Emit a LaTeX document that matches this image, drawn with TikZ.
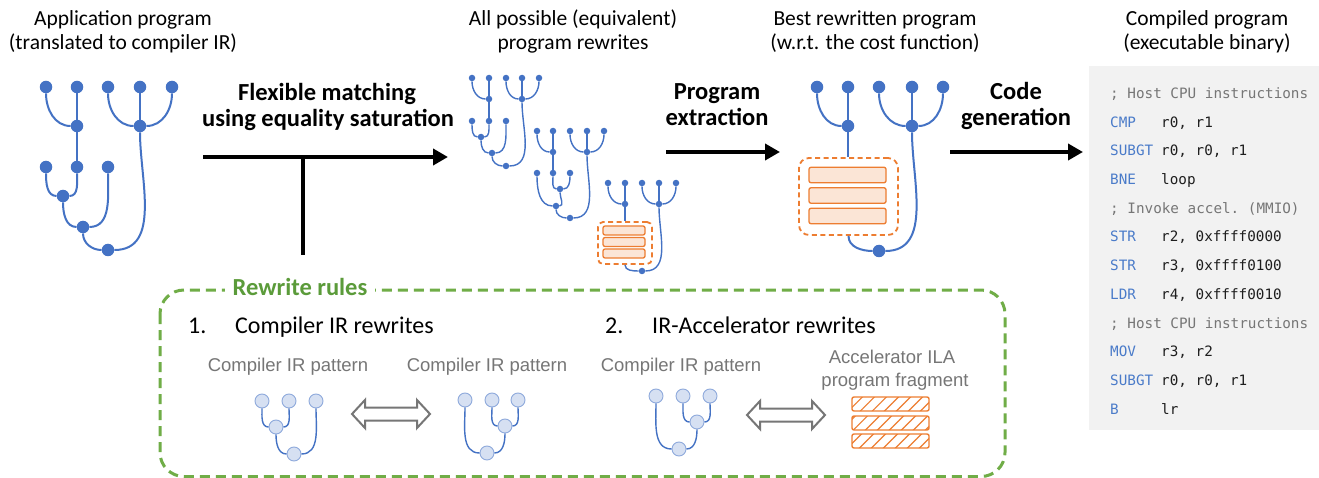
\documentclass[tikz,border=0pt]{standalone}
\usepackage{fontspec}
\setmainfont{Carlito}
\newfontfamily\arialf{Liberation Sans}
\setmonofont{DejaVu Sans Mono}
\usetikzlibrary{arrows.meta,patterns.meta}
\definecolor{blueN}{HTML}{4472C4}
\definecolor{orangeC}{HTML}{ED7D31}
\definecolor{orangeF}{HTML}{FBE5D6}
\definecolor{greenC}{HTML}{70AD47}
\definecolor{greenT}{HTML}{5B9B3A}
\definecolor{grayT}{HTML}{767676}
\definecolor{codeBg}{HTML}{F2F2F2}
\definecolor{kwBlue}{HTML}{4A7BC9}
\definecolor{lightF}{HTML}{D6E0F2}
\definecolor{lightD}{HTML}{8FAADC}
\definecolor{codeTxt}{HTML}{1E1E1E}
\tikzset{
  bnode/.style={circle, fill=blueN, inner sep=0, minimum size=12.5},
  snode/.style={circle, fill=blueN, inner sep=0, minimum size=6.5},
  lnode/.style={circle, fill=lightF, draw=lightD, line width=0.9, inner sep=0, minimum size=14},
  bedge/.style={draw=blueN, line width=2},
  sedge/.style={draw=blueN, line width=1.4},
  ttl/.style={anchor=base, inner sep=0, font=\fontsize{21.5}{25}\selectfont},
  bld/.style={anchor=base, inner sep=0, font=\fontsize{24.5}{28}\selectfont\bfseries},
  flow/.style={line width=4.5, -{Triangle[length=15,width=16]}},
  obox/.style={draw=orangeC, dash pattern=on 5 off 3.5, line width=1.8, fill=white},
  obar/.style={draw=orangeC, fill=orangeF, line width=1.3, rounded corners=2},
  hbar/.style={draw=orangeC, line width=1.4, rounded corners=2, pattern={Lines[angle=45,distance=8.5,line width=1.2]}, pattern color=orangeC, minimum width=77, minimum height=14, inner sep=0},
  kwtxt/.style={anchor=base west, inner sep=0, text=kwBlue, font=\fontsize{14.3}{17}\ttfamily},
  optxt/.style={anchor=base west, inner sep=0, text=codeTxt, font=\fontsize{14.3}{17}\ttfamily},
  cmtxt/.style={anchor=base west, inner sep=0, text=grayT, font=\fontsize{14.3}{17}\ttfamily},
  glab/.style={anchor=base, inner sep=0, text=grayT, font=\fontsize{18.5}{22}\arialf},
  rlab/.style={anchor=base west, inner sep=0, font=\fontsize{24}{28}\selectfont},
  darr/.style={draw=grayT, fill=white, line width=2, line join=miter},
}
\begin{document}
\begin{tikzpicture}[x=1pt,y=1pt]
\useasboundingbox (0,0) rectangle (1319,-478);
\fill[white] (0,0) rectangle (1319,-478);

% ---------- titles ----------
\node[ttl] (t1a) at (123,-26) {Application program};
\node[ttl] (t1b) at (123,-50) {(translated to compiler IR)};
\node[ttl] (t2a) at (573,-26) {All possible (equivalent)};
\node[ttl] (t2b) at (573,-50) {program rewrites};
\node[ttl] (t3a) at (875,-26) {Best rewritten program};
\node[ttl] (t3b) at (875,-50) {(w.r.t. the cost function)};
\node[ttl] (t4a) at (1207,-26) {Compiled program};
\node[ttl] (t4b) at (1207,-50) {(executable binary)};

% ---------- left tree ----------
\foreach \n/\x/\y in {L1/46/87,L2/77/87,L3/108/87,L4/140/87,L5/172/87,La/77/126,Lb/140/126,L6/46/167,L7/77/167,L8/108/167,Lc/63/196,Ld/83/227,Le/108/250}
  \node[bnode] (\n) at (\x,-\y) {};
\draw[bedge] (L1) to[out=-90,in=180] (La);
\draw[bedge] (L2) -- (La);
\draw[bedge] (L3) to[out=-90,in=180] (Lb);
\draw[bedge] (L4) -- (Lb);
\draw[bedge] (L5) to[out=-90,in=0] (Lb);
\draw[bedge] (La) -- (L7);
\draw[bedge] (L6) to[out=-90,in=180] (Lc);
\draw[bedge] (L7) to[out=-90,in=0] (Lc);
\draw[bedge] (Lc) to[out=-90,in=180] (Ld);
\draw[bedge] (L8) to[out=-90,in=0] (Ld);
\draw[bedge] (Ld) to[out=-90,in=180] (Le);
\draw[bedge] (Lb) to[out=-90,in=0] (Le);

% ---------- tree A ----------
\foreach \n/\x/\y in {A1/472/78,A2/489/78,A3/506/78,A4/522/78,A5/539/78,Aa/489/99,Ab/522/99,A6/472/121,A7/489/121,A8/506/121,Ac/481/137,Ad/492/153,Ae/506/166}
  \node[snode] (\n) at (\x,-\y) {};
\draw[sedge] (A1) to[out=-90,in=180] (Aa);
\draw[sedge] (A2) -- (Aa);
\draw[sedge] (A3) to[out=-90,in=180] (Ab);
\draw[sedge] (A4) -- (Ab);
\draw[sedge] (A5) to[out=-90,in=0] (Ab);
\draw[sedge] (Aa) -- (A7);
\draw[sedge] (A6) to[out=-90,in=180] (Ac);
\draw[sedge] (A7) to[out=-90,in=0] (Ac);
\draw[sedge] (Ac) to[out=-90,in=180] (Ad);
\draw[sedge] (A8) to[out=-90,in=0] (Ad);
\draw[sedge] (Ad) to[out=-90,in=180] (Ae);
\draw[sedge] (Ab) to[out=-90,in=0] (Ae);

% ---------- tree B ----------
\foreach \n/\x/\y in {B1/537/131,B2/553/131,B3/570/131,B4/587/131,B5/604/131,Ba/553/152,Bb/587/152,B6/537/173,B7/553/173,B8/570/173,Bc/560/189,Bd/556/206,Be/570/218}
  \node[snode] (\n) at (\x,-\y) {};
\draw[sedge] (B1) to[out=-90,in=180] (Ba);
\draw[sedge] (B2) -- (Ba);
\draw[sedge] (B3) to[out=-90,in=180] (Bb);
\draw[sedge] (B4) -- (Bb);
\draw[sedge] (B5) to[out=-90,in=0] (Bb);
\draw[sedge] (Ba) -- (B7);
\draw[sedge] (B7) to[out=-90,in=180] (Bc);
\draw[sedge] (B8) to[out=-90,in=0] (Bc);
\draw[sedge] (B6) to[out=-90,in=180] (Bd);
\draw[sedge] (Bc) to[out=-90,in=0] (Bd);
\draw[sedge] (Bd) to[out=-90,in=180] (Be);
\draw[sedge] (Bb) to[out=-90,in=0] (Be);

% ---------- tree C ----------
\foreach \n/\x/\y in {C1/608/183,C2/625/183,C3/642/183,C4/659/183,C5/676/183,Ca/625/204,Cb/659/204,Cr/642/271}
  \node[snode] (\n) at (\x,-\y) {};
\node[obox, minimum width=54, minimum height=42, inner sep=0, rounded corners=5] (Cbox) at (625,-243) {};
\node[obar, minimum width=42, minimum height=9, inner sep=0] (Cq1) at (624,-230.5) {};
\node[obar, minimum width=42, minimum height=9, inner sep=0] (Cq2) at (624,-242) {};
\node[obar, minimum width=42, minimum height=9, inner sep=0] (Cq3) at (624,-253.5) {};
\draw[sedge] (C1) to[out=-90,in=180] (Ca);
\draw[sedge] (C2) -- (Ca);
\draw[sedge] (C3) to[out=-90,in=180] (Cb);
\draw[sedge] (C4) -- (Cb);
\draw[sedge] (C5) to[out=-90,in=0] (Cb);
\draw[sedge] (Ca) -- (Ca |- Cbox.north);
\draw[sedge] (Cbox.south) to[out=-90,in=180] (Cr);
\draw[sedge] (Cb) to[out=-90,in=0] (Cr);

% ---------- best tree ----------
\foreach \n/\x/\y in {D1/817/87,D2/848/87,D3/879/87,D4/912/87,D5/943/87,Da/848/126,Db/912/126,Dr/879/251}
  \node[bnode] (\n) at (\x,-\y) {};
\node[obox, minimum width=99, minimum height=77, inner sep=0, rounded corners=10] (Dbox) at (848.5,-196.5) {};
\node[obar, minimum width=77, minimum height=15.5, inner sep=0] (Dq1) at (847.5,-175) {};
\node[obar, minimum width=77, minimum height=15.5, inner sep=0] (Dq2) at (847.5,-195.5) {};
\node[obar, minimum width=77, minimum height=15.5, inner sep=0] (Dq3) at (847.5,-216) {};
\draw[bedge] (D1) to[out=-90,in=180] (Da);
\draw[bedge] (D2) -- (Da);
\draw[bedge] (D3) to[out=-90,in=180] (Db);
\draw[bedge] (D4) -- (Db);
\draw[bedge] (D5) to[out=-90,in=0] (Db);
\draw[bedge] (Da) -- (Da |- Dbox.north);
\draw[bedge] (Dbox.south) to[out=-90,in=180] (Dr);
\draw[bedge] (Db) to[out=-90,in=0] (Dr);

% ---------- flow arrows ----------
\coordinate (f1s) at (203,-157);
\coordinate (f1e) at (448,-157);
\coordinate (f1j) at (303,-157);
\coordinate (f1b) at (303,-255);
\draw[flow] (f1s) -- (f1e);
\draw[line width=4.5] (f1j) -- (f1b);
\node[bld] (fl1) at (327,-101) {Flexible matching};
\node[bld] (fl2) at (328,-127) {using equality saturation};

\coordinate (f2s) at (666,-152);
\coordinate (f2e) at (780,-152);
\draw[flow] (f2s) -- (f2e);
\node[bld] (pe1) at (717,-100) {Program};
\node[bld] (pe2) at (717,-126) {extraction};

\coordinate (f3s) at (950,-152);
\coordinate (f3e) at (1083,-152);
\draw[flow] (f3s) -- (f3e);
\node[bld] (cg1) at (1016,-100) {Code};
\node[bld] (cg2) at (1016,-126) {generation};

% ---------- code panel ----------
\fill[codeBg] (1089,-66) rectangle (1319,-430);
\node[cmtxt] (c1) at (1110,-98.5) {; Host CPU instructions};
\node[kwtxt] (k2) at (1110,-127.2) {CMP};   \node[optxt] (o2) at (1161,-127.2) {r0, r1};
\node[kwtxt] (k3) at (1110,-155.9) {SUBGT}; \node[optxt] (o3) at (1161,-155.9) {r0, r0, r1};
\node[kwtxt] (k4) at (1110,-184.6) {BNE};   \node[optxt] (o4) at (1161,-184.6) {loop};
\node[cmtxt] (c5) at (1110,-213.3) {; Invoke accel. (MMIO)};
\node[kwtxt] (k6) at (1110,-242) {STR};     \node[optxt] (o6) at (1161,-242) {r2, 0xffff0000};
\node[kwtxt] (k7) at (1110,-270.7) {STR};   \node[optxt] (o7) at (1161,-270.7) {r3, 0xffff0100};
\node[kwtxt] (k8) at (1110,-299.4) {LDR};   \node[optxt] (o8) at (1161,-299.4) {r4, 0xffff0010};
\node[cmtxt] (c9) at (1110,-328.1) {; Host CPU instructions};
\node[kwtxt] (k10) at (1110,-356.8) {MOV};  \node[optxt] (o10) at (1161,-356.8) {r3, r2};
\node[kwtxt] (k11) at (1110,-385.5) {SUBGT};\node[optxt] (o11) at (1161,-385.5) {r0, r0, r1};
\node[kwtxt] (k12) at (1110,-414.2) {B};    \node[optxt] (o12) at (1161,-414.2) {lr};

% ---------- rewrite rules box ----------
\draw[draw=greenC, line width=3, dash pattern=on 10 off 6, rounded corners=24] (160,-290) rectangle (1005,-476.5);
\node[anchor=base, fill=white, inner xsep=8, inner ysep=5, text=greenT, font=\fontsize{24.5}{28}\selectfont\bfseries] (rr) at (300,-295) {Rewrite rules};

\node[rlab] (n1) at (188,-333) {1.};
\node[rlab] (r1) at (235,-333) {Compiler IR rewrites};
\node[rlab] (n2) at (605,-333) {2.};
\node[rlab] (r2) at (652,-333) {IR-Accelerator rewrites};

\node[glab] (g1) at (288,-371) {Compiler IR pattern};
\node[glab] (g2) at (487,-371) {Compiler IR pattern};
\node[glab] (g3) at (681,-371) {Compiler IR pattern};
\node[glab] (g4) at (892,-363) {Accelerator ILA};
\node[glab] (g5) at (895,-386) {program fragment};

% pattern tree 1
\foreach \n/\x/\y in {P1/262/401,P2/289/401,P3/316/401,Pa/276/427,Pb/294/454}
  \node[lnode] (\n) at (\x,-\y) {};
\draw[sedge] (P1) to[out=-90,in=180] (Pa);
\draw[sedge] (P2) to[out=-90,in=0] (Pa);
\draw[sedge] (Pa) to[out=-90,in=180] (Pb);
\draw[sedge] (P3) to[out=-90,in=0] (Pb);
% pattern tree 2
\foreach \n/\x/\y in {Q1/465/400,Q2/492/400,Q3/518/400,Qa/505/426,Qb/487/453}
  \node[lnode] (\n) at (\x,-\y) {};
\draw[sedge] (Q2) to[out=-90,in=180] (Qa);
\draw[sedge] (Q3) to[out=-90,in=0] (Qa);
\draw[sedge] (Qa) to[out=-90,in=0] (Qb);
\draw[sedge] (Q1) to[out=-90,in=180] (Qb);
% pattern tree 3
\foreach \n/\x/\y in {R1/656/396,R2/683/396,R3/710/396,Ra/697/422,Rb/679/449}
  \node[lnode] (\n) at (\x,-\y) {};
\draw[sedge] (R2) to[out=-90,in=180] (Ra);
\draw[sedge] (R3) to[out=-90,in=0] (Ra);
\draw[sedge] (Ra) to[out=-90,in=0] (Rb);
\draw[sedge] (R1) to[out=-90,in=180] (Rb);

% hatched accelerator fragment
\node[hbar] (h1) at (890.5,-404) {};
\node[hbar] (h2) at (890.5,-423) {};
\node[hbar] (h3) at (890.5,-441) {};

% double arrows
\coordinate (da1) at (391,-414);
\coordinate (da2) at (786,-415);
\foreach \c in {da1,da2}
  \draw[darr] (\c) ++(-39,0) -- ++(13,14) -- ++(0,-7.5) -- ++(52,0) -- ++(0,7.5) -- ++(13,-14) -- ++(-13,-14) -- ++(0,7.5) -- ++(-52,0) -- ++(0,-7.5) -- cycle;
\end{tikzpicture}
\end{document}
